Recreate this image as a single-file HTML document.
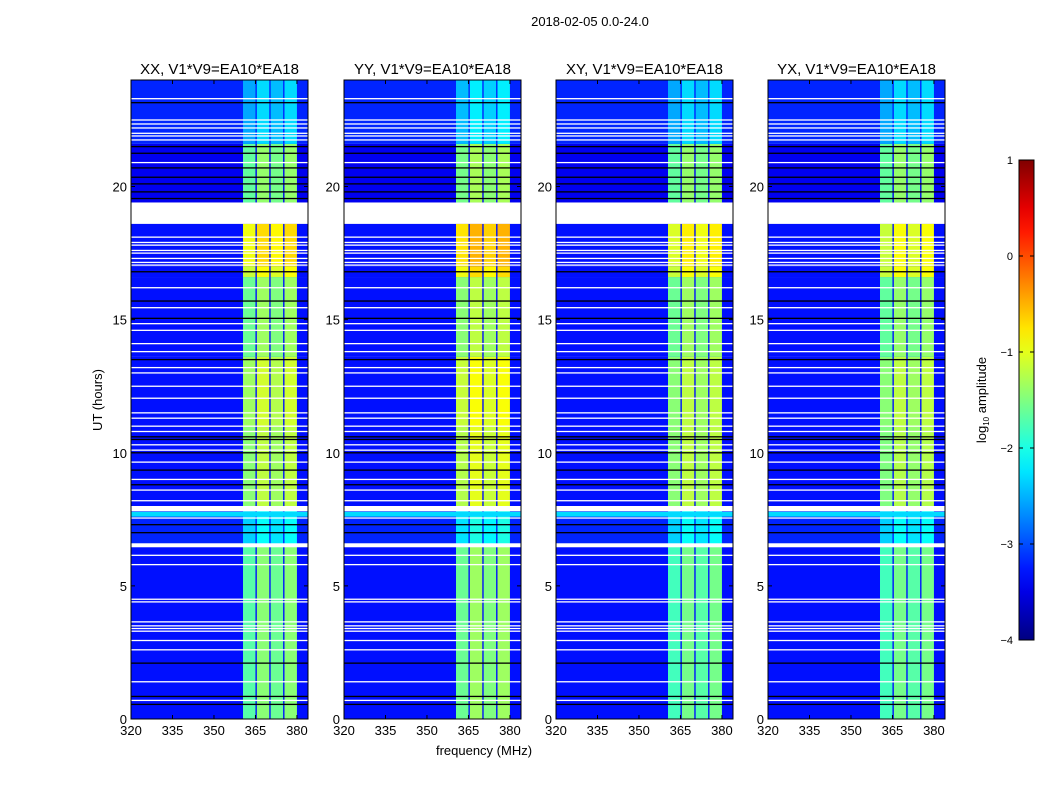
<!DOCTYPE html>
<html><head><meta charset="utf-8"><style>
body{margin:0;background:#fff;}
svg{display:block;font-family:"Liberation Sans",sans-serif;}
</style></head><body>
<svg id="fig" width="1050" height="800" viewBox="0 0 1050 800" xmlns="http://www.w3.org/2000/svg">
<rect width="1050" height="800" fill="#fff"/>
<text x="590" y="26" font-size="13" text-anchor="middle">2018-02-05 0.0-24.0</text>
<text transform="translate(102,400) rotate(-90)" font-size="13" text-anchor="middle">UT (hours)</text>
<text x="484" y="755" font-size="13" text-anchor="middle">frequency (MHz)</text>
<g id="panels"></g>
<g id="cbar"></g>
</svg>
<script>
const panelTitles=["XX, V1*V9=EA10*EA18","YY, V1*V9=EA10*EA18","XY, V1*V9=EA10*EA18","YX, V1*V9=EA10*EA18"];
const panelLeft=[131,344,556,768];
// time segments (hours) and band level per panel [XX,YY,XY,YX]
const segStart=[0,6.5,8.0,11.0,13.6,16.6,17.0,19.4,21.6];
const segEnd=[6.5,8.0,11.0,13.6,16.6,17.0,18.6,21.6,24];
const segLevel=[[-1.55,-1.45,-1.65,-1.65],[-2.2,-2.1,-2.2,-2.2],[-1.3,-1.1,-1.3,-1.35],[-1.2,-1.0,-1.3,-1.3],[-1.45,-1.3,-1.45,-1.5],[-1.0,-0.8,-1.0,-1.0],[-0.8,-0.6,-0.9,-1.0],[-1.5,-1.4,-1.5,-1.5],[-2.4,-2.3,-2.4,-2.4]];
const segBg=[-3.3,-3.2,-3.3,-3.3,-3.3,-3.3,-3.3,-3.45,-3.2];
// spectral windows (MHz)
const winStart=[360.5,365.5,370.5,375.5];
const winEnd=[365,370,375,380];
const winOffset=[-0.15,0.1,-0.05,0.1];
// flagged rows (hours)
const whiteRows=[23.3,22.5,22.35,22.2,22.0,21.9,21.75,20.9,18.1,17.9,17.8,17.6,17.5,17.3,17.15,17.05,16.2,15.45,14.85,14.6,14.1,13.8,13.2,13.0,12.5,12.05,11.5,11.3,11.0,10.8,10.3,10.1,9.65,9.0,8.6,8.2,7.55,6.15,5.8,4.5,4.4,3.65,3.5,3.4,3.3,2.95,2.6,1.4,0.7];
const blackRows=[23.15,21.5,21.25,20.7,20.35,20.1,19.8,19.55,16.8,15.7,15.05,13.5,10.6,10.5,10.0,9.35,8.8,7.3,7.0,2.1,0.85,0.55];
const whiteBlocks=[[18.6,19.35],[7.8,8.0],[6.45,6.6]];
const cyanBlocks=[[7.6,7.78]];
const xTicks=[320,335,350,365,380];
const yTicks=[0,5,10,15,20];
const cbTicks=[1,0,-1,-2,-3,-4];
const cbLabels=["1","0","\u22121","\u22122","\u22123","\u22124"];

const F0=320,F1=384,T0=0,T1=24,PW=177,PY0=80,PY1=719;
const NS="http://www.w3.org/2000/svg";
function jet(v){let t=(v+4)/5;t=Math.max(0,Math.min(1,t));
 const c=x=>Math.max(0,Math.min(1,x));
 const r=c(Math.min(4*t-1.5,-4*t+4.5)),g=c(Math.min(4*t-0.5,-4*t+3.5)),b=c(Math.min(4*t+0.5,-4*t+2.5));
 return `rgb(${Math.round(r*255)},${Math.round(g*255)},${Math.round(b*255)})`;}
function mk(tag,attrs,parent){const e=document.createElementNS(NS,tag);for(const k in attrs)e.setAttribute(k,attrs[k]);parent.appendChild(e);return e;}
const yS=h=>PY1-(h-T0)/(T1-T0)*(PY1-PY0);
const panels=document.getElementById('panels');
panelLeft.forEach((L,p)=>{
 const xS=f=>L+(f-F0)/(F1-F0)*PW;
 const g=mk('g',{},panels);
 
 
 segStart.forEach((s,i)=>{
  const r=mk('rect',{x:L,y:yS(segEnd[i]),width:PW,height:yS(s)-yS(segEnd[i]),fill:jet(segBg[i])},g);
  
  
  winStart.forEach((w,k)=>{
   const c=mk('rect',{x:xS(w),y:yS(segEnd[i]),width:xS(winEnd[k])-xS(w),height:yS(s)-yS(segEnd[i]),fill:jet(segLevel[i][p]+winOffset[k])},g);
   
   
  });
 });
 cyanBlocks.forEach(b=>{const r=mk('rect',{x:L,y:yS(b[1]),width:PW,height:yS(b[0])-yS(b[1]),fill:jet(-2.3)},g);
  });
 blackRows.forEach(h=>{const r=mk('rect',{x:L,y:yS(h)-0.6,width:PW,height:1.3,fill:'#000'},g);
  });
 whiteRows.forEach(h=>{const r=mk('rect',{x:L,y:yS(h)-0.6,width:PW,height:1.3,fill:'#fff'},g);
  });
 whiteBlocks.forEach(b=>{const r=mk('rect',{x:L,y:yS(b[1]),width:PW,height:yS(b[0])-yS(b[1]),fill:'#fff'},g);
  });
 const fr=mk('rect',{x:L,y:PY0,width:PW,height:PY1-PY0,fill:'none',stroke:'#000','stroke-width':1},g);
 
 const t=mk('text',{x:L+PW/2,y:74,'font-size':15,'text-anchor':'middle'},g);t.textContent=panelTitles[p];
 
 xTicks.forEach(f=>{const x=xS(f);
  mk('line',{x1:x,x2:x,y1:PY1,y2:PY1-4,stroke:'#000'},g);mk('line',{x1:x,x2:x,y1:PY0,y2:PY0+4,stroke:'#000'},g);
  const tx=mk('text',{x:x,y:PY1+16,'font-size':13,'text-anchor':'middle'},g);tx.textContent=f;
  });
 yTicks.forEach(h=>{const y=yS(h);
  mk('line',{x1:L,x2:L+4,y1:y,y2:y,stroke:'#000'},g);mk('line',{x1:L+PW,x2:L+PW-4,y1:y,y2:y,stroke:'#000'},g);
  const ty=mk('text',{x:L-4,y:y+5,'font-size':13,'text-anchor':'end'},g);ty.textContent=h;
  });
});
// colorbar
const cb=document.getElementById('cbar');

const defs=mk('defs',{},cb);const lg=mk('linearGradient',{id:'jetg',x1:0,y1:1,x2:0,y2:0},defs);
for(let i=0;i<=20;i++){mk('stop',{offset:i/20,'stop-color':jet(-4+5*i/20)},lg);}
const CB0=160,CB1=640,cy=v=>CB1-(v+4)/5*(CB1-CB0);
mk('rect',{x:1019,y:CB0,width:15,height:CB1-CB0,fill:'url(#jetg)',stroke:'#000','stroke-width':1},cb);
cbTicks.forEach((v,i)=>{const y=cy(v);
 mk('line',{x1:1019,x2:1023,y1:y,y2:y,stroke:'#000'},cb);mk('line',{x1:1034,x2:1030,y1:y,y2:y,stroke:'#000'},cb);
 const t=mk('text',{x:1013,y:y+4,'font-size':11,'text-anchor':'end'},cb);t.textContent=cbLabels[i];
 });
const cl=mk('text',{transform:'translate(986,400) rotate(-90)','font-size':13,'text-anchor':'middle'},cb);
cl.innerHTML='log<tspan font-size="8" dy="3">10</tspan><tspan dy="-3"> amplitude</tspan>';

</script>
</body></html>
